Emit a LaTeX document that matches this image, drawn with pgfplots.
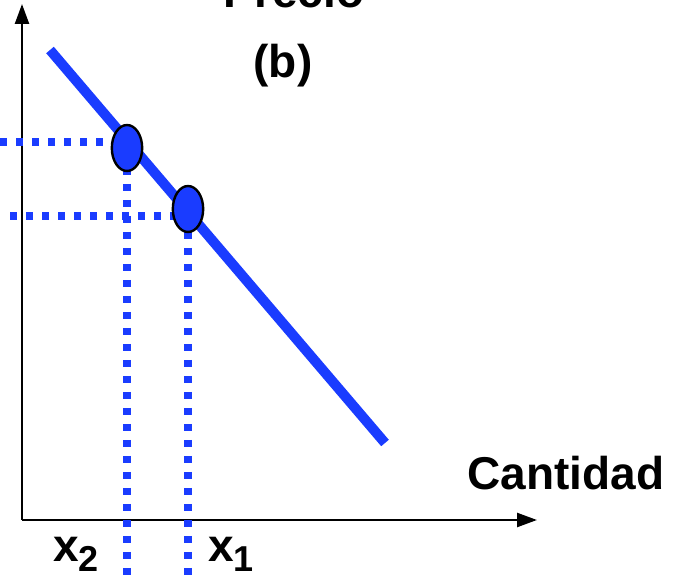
\documentclass[border=0pt]{standalone}
\usepackage{pgfplots}
\pgfplotsset{compat=1.18}
\usepackage{fontspec}
\setmainfont{Liberation Sans}
\usetikzlibrary{arrows.meta}
\definecolor{lblue}{RGB}{26,60,255}
\begin{document}
\begin{tikzpicture}
\begin{axis}[x=0.5pt,y=0.5pt,xmin=0,xmax=675,ymin=0,ymax=578,
  hide axis, clip=false]
\coordinate (SW) at (axis cs:0,0);
\coordinate (NE) at (axis cs:675,578);
% axes
\draw[black, line width=1.2pt, -{Triangle[length=10pt,width=7pt]}] (axis cs:22,58) -- (axis cs:537,58);
\draw[black, line width=1.2pt, -{Triangle[length=10pt,width=7pt]}] (axis cs:22,58) -- (axis cs:22,574);
% dotted guides
\addplot[lblue, line width=3.6pt, dash pattern=on 3.6pt off 4.4pt] coordinates {(0,436) (112,436)};
\addplot[lblue, line width=3.6pt, dash pattern=on 3.6pt off 4.4pt] coordinates {(10,362) (176,362)};
\addplot[lblue, line width=3.6pt, dash pattern=on 3.6pt off 4.4pt] coordinates {(127,410) (127,0)};
\addplot[lblue, line width=3.6pt, dash pattern=on 3.6pt off 4.4pt] coordinates {(188,346) (188,0)};
% demand line
\addplot[lblue, line width=5pt] coordinates {(50,528) (385,135)};
% points
\addplot[only marks, mark=*, mark size=11.5pt, mark options={xscale=0.66, fill=lblue, draw=black, line width=1.2pt}] coordinates {(127,430) (188,369)};
% labels
\node[anchor=base, font=\bfseries\fontsize{23}{23}\selectfont] at (axis cs:294,570) {Precio};
\node[anchor=base, font=\bfseries\fontsize{23}{23}\selectfont] at (axis cs:283,500) {(b)};
\node[anchor=base, font=\bfseries\fontsize{23}{23}\selectfont] at (axis cs:566,88) {Cantidad};
\node[anchor=base west, inner sep=0pt, font=\bfseries\fontsize{23}{23}\selectfont] at (axis cs:53,16) {x\raisebox{-5pt}{\fontsize{18}{18}\selectfont 2}};
\node[anchor=base west, inner sep=0pt, font=\bfseries\fontsize{23}{23}\selectfont] at (axis cs:208,16) {x\raisebox{-5pt}{\fontsize{18}{18}\selectfont 1}};
\end{axis}
\pgfresetboundingbox
\path[use as bounding box] (SW) rectangle (NE);
\end{tikzpicture}
\end{document}
